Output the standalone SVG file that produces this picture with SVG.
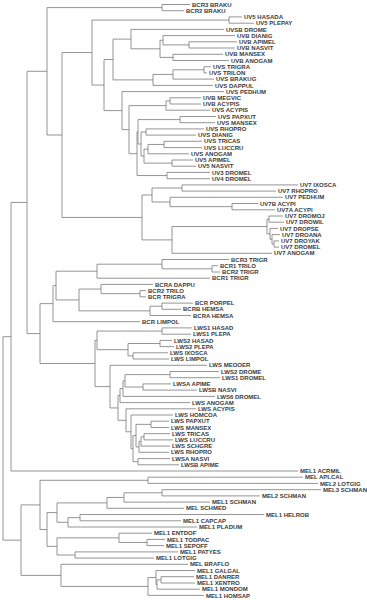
<svg xmlns="http://www.w3.org/2000/svg" width="367" height="600" viewBox="0 0 367 600">
<style>
.b{fill:none;stroke:#7a7a7a;stroke-width:0.8}
text{font-family:"Liberation Sans",Arial,sans-serif;font-size:6px;font-weight:bold;fill:#3a3a3a}
</style>
<rect width="367" height="600" fill="#fff"/>
<g id="connectors" class="b">
<path d="M162,4.5V10.7M162,4.5H190M162,10.7H184"/>
<path d="M229,16.9V23.2M229,16.9H242M229,23.2H254"/>
<path d="M189,41.8V48M189,41.8H237M189,48H235"/>
<path d="M163,35.6V44.9M163,35.6H235M163,44.9H189"/>
<path d="M173,54.3V60.5M173,54.3H223M173,60.5H229"/>
<path d="M160,40.25V57.4M160,40.25H163M160,57.4H173"/>
<path d="M131,29.4V48.8M131,29.4H224M131,48.8H160"/>
<path d="M204,66.7V72.9M204,66.7H211M204,72.9H207"/>
<path d="M173,69.8V79.1M173,69.8H204M173,79.1H214"/>
<path d="M153,74.45V85.4M153,74.45H173M153,85.4H213"/>
<path d="M113,39.1V79.9M113,39.1H131M113,79.9H153"/>
<path d="M170,97.8V104M170,97.8H201M170,104H201"/>
<path d="M166,100.9V110.2M166,100.9H170M166,110.2H210"/>
<path d="M180,116.5V122.7M180,116.5H216M180,122.7H215"/>
<path d="M146,128.9V135.1M146,128.9H204M146,135.1H196"/>
<path d="M164,141.3V147.6M164,141.3H202M164,147.6H202"/>
<path d="M148,144.45V153.8M148,144.45H164M148,153.8H189"/>
<path d="M172,160V166.2M172,160H193M172,166.2H196"/>
<path d="M144,149.1V163.1M144,149.1H148M144,163.1H172"/>
<path d="M141,132V156.1M141,132H146M141,156.1H144"/>
<path d="M138,119.6V144.05M138,119.6H180M138,144.05H141"/>
<path d="M167,172.4V178.7M167,172.4H210M167,178.7H210"/>
<path d="M137,131.8V175.55M137,131.8H138M137,175.55H167"/>
<path d="M129,105.6V153.7M129,105.6H166M129,153.7H137"/>
<path d="M122,91.6V129.65M122,91.6H224M122,129.65H129"/>
<path d="M104,59.5V110.6M104,59.5H113M104,110.6H122"/>
<path d="M92,20.05V85.05M92,20.05H229M92,85.05H104"/>
<path d="M182,184.9V191.1M182,184.9H298M182,191.1H276"/>
<path d="M232,203.5V209.8M232,203.5H258M232,209.8H275"/>
<path d="M170,197.3V206.65M170,197.3H283M170,206.65H232"/>
<path d="M152,188V201.98M152,188H182M152,201.98H170"/>
<path d="M269,216V222.2M269,216H283M269,222.2H284"/>
<path d="M274,240.9V247.1M274,240.9H279M274,247.1H279"/>
<path d="M272,234.6V244M272,234.6H280M272,244H274"/>
<path d="M270,228.4V239.3M270,228.4H278M270,239.3H272"/>
<path d="M267,219.1V233.85M267,219.1H269M267,233.85H270"/>
<path d="M172,226.5V253.3M172,226.5H267M172,253.3H272"/>
<path d="M142,195V239.9M142,195H152M142,239.9H172"/>
<path d="M62,52.55V217.45M62,52.55H92M62,217.45H142"/>
<path d="M47,7.6V135M47,7.6H162M47,135H62"/>
<path d="M212,265.7V272M212,265.7H218M212,272H220"/>
<path d="M162,259.5V268.85M162,259.5H229M162,268.85H212"/>
<path d="M97,264.2V278.2M97,264.2H162M97,278.2H210"/>
<path d="M140,290.6V296.8M140,290.6H146M140,296.8H146"/>
<path d="M101,284.4V293.7M101,284.4H153M101,293.7H140"/>
<path d="M162,303.1V309.3M162,303.1H193M162,309.3H181"/>
<path d="M150,306.2V315.5M150,306.2H162M150,315.5H191"/>
<path d="M79,289.05V310.85M79,289.05H101M79,310.85H150"/>
<path d="M56,271.2V299.95M56,271.2H97M56,299.95H79"/>
<path d="M53,285.6V321.7M53,285.6H56M53,321.7H140"/>
<path d="M162,327.9V334.2M162,327.9H192M162,334.2H191"/>
<path d="M160,340.4V346.6M160,340.4H172M160,346.6H174"/>
<path d="M133,352.8V359M133,352.8H168M133,359H169"/>
<path d="M128,343.5V355.9M128,343.5H160M128,355.9H133"/>
<path d="M97,331.05V349.7M97,331.05H162M97,349.7H128"/>
<path d="M170,371.5V377.7M170,371.5H219M170,377.7H220"/>
<path d="M143,383.9V390.1M143,383.9H171M143,390.1H197"/>
<path d="M125,374.6V387M125,374.6H170M125,387H143"/>
<path d="M123,380.8V396.4M123,380.8H125M123,396.4H215"/>
<path d="M120,388.6V402.6M120,388.6H123M120,402.6H190"/>
<path d="M151,421.2V427.5M151,421.2H169M151,427.5H169"/>
<path d="M144,433.7V439.9M144,433.7H170M144,439.9H173"/>
<path d="M141,436.8V446.1M141,436.8H144M141,446.1H170"/>
<path d="M139,441.45V452.3M139,441.45H141M139,452.3H169"/>
<path d="M136,424.35V446.9M136,424.35H151M136,446.9H139"/>
<path d="M138,458.6V464.8M138,458.6H170M138,464.8H179"/>
<path d="M133,435.6V461.7M133,435.6H136M133,461.7H138"/>
<path d="M131,415V448.65M131,415H173M131,448.65H133"/>
<path d="M126,408.8V431.8M126,408.8H196M126,431.8H131"/>
<path d="M118,395.6V420.3M118,395.6H120M118,420.3H126"/>
<path d="M110,365.3V407.95M110,365.3H207M110,407.95H118"/>
<path d="M95,340.4V386.6M95,340.4H97M95,386.6H110"/>
<path d="M40,303.65V363.5M40,303.65H53M40,363.5H95"/>
<path d="M27,71.3V333.6M27,71.3H47M27,333.6H40"/>
<path d="M11,202.45V471M11,202.45H27M11,471H298"/>
<path d="M148,477.2V483.4M148,477.2H303M148,483.4H318"/>
<path d="M162,489.7V495.9M162,489.7H321M162,495.9H260"/>
<path d="M124,492.8V502.1M124,492.8H162M124,502.1H210"/>
<path d="M107,497.45V508.3M107,497.45H124M107,508.3H184"/>
<path d="M80,514.5V520.8M80,514.5H264M80,520.8H181"/>
<path d="M68,517.65V527M68,517.65H80M68,527H197"/>
<path d="M57,502.9V522.3M57,502.9H107M57,522.3H68"/>
<path d="M147,539.4V545.6M147,539.4H165M147,545.6H164"/>
<path d="M119,533.2V542.5M119,533.2H152M119,542.5H147"/>
<path d="M75,551.9V558.1M75,551.9H178M75,558.1H154"/>
<path d="M57,537.85V555M57,537.85H119M57,555H75"/>
<path d="M47,512.6V546.4M47,512.6H57M47,546.4H57"/>
<path d="M40,480.3V529.5M40,480.3H148M40,529.5H47"/>
<path d="M161,576.7V583M161,576.7H194M161,583H195"/>
<path d="M157,579.85V589.2M157,579.85H161M157,589.2H200"/>
<path d="M156,570.5V584.5M156,570.5H195M156,584.5H157"/>
<path d="M148,577.5V595.4M148,577.5H156M148,595.4H204"/>
<path d="M61,564.3V586.45M61,564.3H188M61,586.45H148"/>
<path d="M21,504.9V575.4M21,504.9H40M21,575.4H61"/>
<path d="M3,336.7V540.15M3,336.7H11M3,540.15H21"/>
</g>
<g id="leaves">
<g id="L0"><text x="192" y="6.6">BCR3 BRAKU</text></g>
<g id="L1"><text x="186" y="12.8">BCR2 BRAKU</text></g>
<g id="L2"><text x="244" y="19">UV5 HASADA</text></g>
<g id="L3"><text x="256" y="25.3">UV5 PLEPAY</text></g>
<g id="L4"><text x="226" y="31.5">UVSB DROME</text></g>
<g id="L5"><text x="237" y="37.7">UVB DIANIG</text></g>
<g id="L6"><text x="239" y="43.9">UVB APIMEL</text></g>
<g id="L7"><text x="237" y="50.1">UVB NASVIT</text></g>
<g id="L8"><text x="225" y="56.4">UVB MANSEX</text></g>
<g id="L9"><text x="231" y="62.6">UVB ANOGAM</text></g>
<g id="L10"><text x="213" y="68.8">UVS TRIGRA</text></g>
<g id="L11"><text x="209" y="75">UVS TRILON</text></g>
<g id="L12"><text x="216" y="81.2">UVS BRAKUG</text></g>
<g id="L13"><text x="215" y="87.5">UVS DAPPUL</text></g>
<g id="L14"><text x="226" y="93.7">UVS PEDHUM</text></g>
<g id="L15"><text x="203" y="99.9">UVB MEGVIC</text></g>
<g id="L16"><text x="203" y="106.1">UVB ACYPIS</text></g>
<g id="L17"><text x="212" y="112.3">UVS ACYPIS</text></g>
<g id="L18"><text x="218" y="118.6">UVS PAPXUT</text></g>
<g id="L19"><text x="217" y="124.8">UVS MANSEX</text></g>
<g id="L20"><text x="206" y="131">UVS RHOPRO</text></g>
<g id="L21"><text x="198" y="137.2">UVS DIANIG</text></g>
<g id="L22"><text x="204" y="143.4">UVS TRICAS</text></g>
<g id="L23"><text x="204" y="149.7">UVS LUCCRU</text></g>
<g id="L24"><text x="191" y="155.9">UVS ANOGAM</text></g>
<g id="L25"><text x="195" y="162.1">UV5 APIMEL</text></g>
<g id="L26"><text x="198" y="168.3">UV5 NASVIT</text></g>
<g id="L27"><text x="212" y="174.5">UV3 DROMEL</text></g>
<g id="L28"><text x="212" y="180.8">UV4 DROMEL</text></g>
<g id="L29"><text x="300" y="187">UV7 IXOSCA</text></g>
<g id="L30"><text x="278" y="193.2">UV7 RHOPRO</text></g>
<g id="L31"><text x="285" y="199.4">UV7 PEDHUM</text></g>
<g id="L32"><text x="260" y="205.6">UV7B ACYPI</text></g>
<g id="L33"><text x="277" y="211.9">UV7A ACYPI</text></g>
<g id="L34"><text x="285" y="218.1">UV7 DROMOJ</text></g>
<g id="L35"><text x="286" y="224.3">UV7 DROWIL</text></g>
<g id="L36"><text x="280" y="230.5">UV7 DROPSE</text></g>
<g id="L37"><text x="282" y="236.7">UV7 DROANA</text></g>
<g id="L38"><text x="281" y="243">UV7 DROYAK</text></g>
<g id="L39"><text x="281" y="249.2">UV7 DROMEL</text></g>
<g id="L40"><text x="274" y="255.4">UV7 ANOGAM</text></g>
<g id="L41"><text x="231" y="261.6">BCR3 TRIGR</text></g>
<g id="L42"><text x="220" y="267.8">BCR1 TRILO</text></g>
<g id="L43"><text x="222" y="274.1">BCR2 TRIGR</text></g>
<g id="L44"><text x="212" y="280.3">BCR1 TRIGR</text></g>
<g id="L45"><text x="155" y="286.5">BCRA DAPPU</text></g>
<g id="L46"><text x="148" y="292.7">BCR2 TRILO</text></g>
<g id="L47"><text x="148" y="298.9">BCR TRIGRA</text></g>
<g id="L48"><text x="195" y="305.2">BCR PORPEL</text></g>
<g id="L49"><text x="183" y="311.4">BCRB HEMSA</text></g>
<g id="L50"><text x="193" y="317.6">BCRA HEMSA</text></g>
<g id="L51"><text x="142" y="323.8">BCR LIMPOL</text></g>
<g id="L52"><text x="194" y="330">LWS1 HASAD</text></g>
<g id="L53"><text x="193" y="336.3">LWS1 PLEPA</text></g>
<g id="L54"><text x="174" y="342.5">LWS2 HASAD</text></g>
<g id="L55"><text x="176" y="348.7">LWS2 PLEPA</text></g>
<g id="L56"><text x="170" y="354.9">LWS IXOSCA</text></g>
<g id="L57"><text x="171" y="361.1">LWS LIMPOL</text></g>
<g id="L58"><text x="209" y="367.4">LWS MEOOER</text></g>
<g id="L59"><text x="221" y="373.6">LWS2 DROME</text></g>
<g id="L60"><text x="222" y="379.8">LWS1 DROMEL</text></g>
<g id="L61"><text x="173" y="386">LWSA APIME</text></g>
<g id="L62"><text x="199" y="392.2">LWSB NASVI</text></g>
<g id="L63"><text x="217" y="398.5">LWS6 DROMEL</text></g>
<g id="L64"><text x="192" y="404.7">LWS ANOGAM</text></g>
<g id="L65"><text x="198" y="410.9">LWS ACYPIS</text></g>
<g id="L66"><text x="175" y="417.1">LWS HOMCOA</text></g>
<g id="L67"><text x="171" y="423.3">LWS PAPXUT</text></g>
<g id="L68"><text x="171" y="429.6">LWS MANSEX</text></g>
<g id="L69"><text x="172" y="435.8">LWS TRICAS</text></g>
<g id="L70"><text x="175" y="442">LWS LUCCRU</text></g>
<g id="L71"><text x="172" y="448.2">LWS SCHGRE</text></g>
<g id="L72"><text x="171" y="454.4">LWS RHOPRO</text></g>
<g id="L73"><text x="172" y="460.7">LWSA NASVI</text></g>
<g id="L74"><text x="181" y="466.9">LWSB APIME</text></g>
<g id="L75"><text x="300" y="473.1">MEL1 ACRMIL</text></g>
<g id="L76"><text x="305" y="479.3">MEL APLCAL</text></g>
<g id="L77"><text x="320" y="485.5">MEL2 LOTGIG</text></g>
<g id="L78"><text x="323" y="491.8">MEL3 SCHMAN</text></g>
<g id="L79"><text x="262" y="498">MEL2 SCHMAN</text></g>
<g id="L80"><text x="212" y="504.2">MEL1 SCHMAN</text></g>
<g id="L81"><text x="186" y="510.4">MEL SCHMED</text></g>
<g id="L82"><text x="266" y="516.6">MEL1 HELROB</text></g>
<g id="L83"><text x="183" y="522.9">MEL1 CAPCAP</text></g>
<g id="L84"><text x="199" y="529.1">MEL1 PLADUM</text></g>
<g id="L85"><text x="154" y="535.3">MEL1 ENTDOF</text></g>
<g id="L86"><text x="167" y="541.5">MEL1 TODPAC</text></g>
<g id="L87"><text x="166" y="547.7">MEL1 SEPOFF</text></g>
<g id="L88"><text x="180" y="554">MEL1 PATYES</text></g>
<g id="L89"><text x="156" y="560.2">MEL1 LOTGIG</text></g>
<g id="L90"><text x="190" y="566.4">MEL BRAFLO</text></g>
<g id="L91"><text x="197" y="572.6">MEL1 GALGAL</text></g>
<g id="L92"><text x="196" y="578.8">MEL1 DANRER</text></g>
<g id="L93"><text x="197" y="585.1">MEL1 XENTRO</text></g>
<g id="L94"><text x="202" y="591.3">MEL1 MONDOM</text></g>
<g id="L95"><text x="206" y="597.5">MEL1 HOMSAP</text></g>
</g>
</svg>
